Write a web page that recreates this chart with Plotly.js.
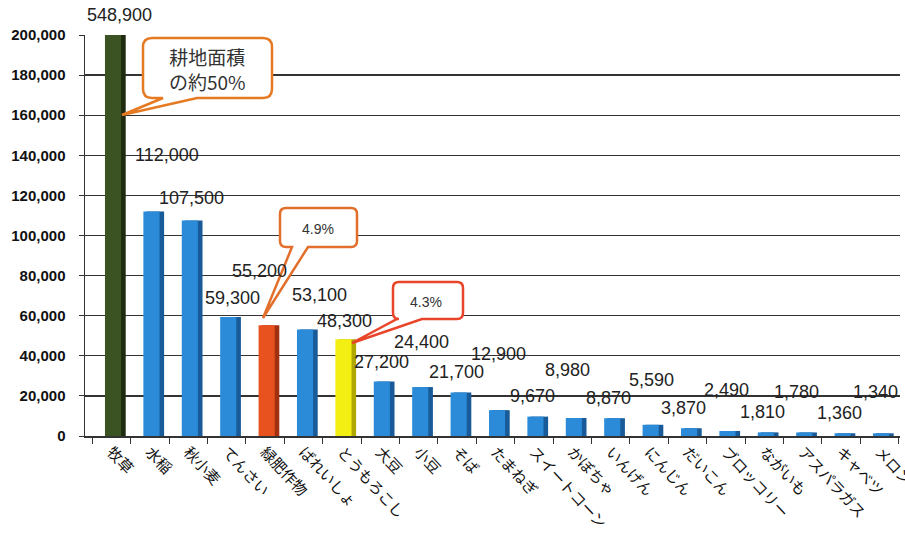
<!DOCTYPE html>
<html><head><meta charset="utf-8">
<script src="https://cdn.plot.ly/plotly-3.0.1.min.js"></script>
<style>html,body{margin:0;padding:0;background:#fff}#chart{width:905px;height:539px}</style>
</head><body><div id="chart"></div>
<script>
// ---- data ----
const crops = ['牧草','水稲','秋小麦','てんさい','緑肥作物','ばれいしょ','とうもろこし','大豆','小豆','そば','たまねぎ','スイートコーン','かぼちゃ','いんげん','にんじん','だいこん','ブロッコリー','ながいも','アスパラガス','キャベツ','メロン'];
const area = [548900,112000,107500,59300,55200,53100,48300,27200,24400,21700,12900,9670,8980,8870,5590,3870,2490,1810,1780,1360,1340];
const yTicks = [0,20000,40000,60000,80000,100000,120000,140000,160000,180000,200000];
const callout1 = ['耕地面積','の約50%'];
const callout2 = '4.9%';
const callout3 = '4.3%';

// ---- styling / layout helpers ----
const YMAX = 200000;
const faceColors = crops.map((c,i)=> i===0 ? '#3B5222' : (c==='緑肥作物' ? '#E8521E' : (c==='とうもろこし' ? '#F4EF12' : '#2C8BD8')));
const sideColors = crops.map((c,i)=> i===0 ? '#1E2B10' : (c==='緑肥作物' ? '#A3300E' : (c==='とうもろこし' ? '#AFA800' : '#185B98')));
const labelDX = [8,17,3,6,-6,16,3,1,3,-1,3,-1,-5,-2,2,-4,1,-2,-6,-2,-4];
const labelDY = [20,56,22,19,54,35,18,19,45,20,56,21,48,20,45,20,41,20,40,20,41];

const L=85, T=35, W=815, H=401;
const px = x => (x-L)/W;
const py = y => (T+H-y)/H;
function P(x,y){return px(x).toFixed(5)+','+py(y).toFixed(5);}
function callout(x0,y0,x1,y1,r,b2,tip,b1){
  return 'M'+P(x0+r,y0)+' L'+P(x1-r,y0)+' Q'+P(x1,y0)+' '+P(x1,y0+r)+
    ' L'+P(x1,y1-r)+' Q'+P(x1,y1)+' '+P(x1-r,y1)+
    ' L'+P(b2,y1)+' L'+P(tip[0],tip[1])+' L'+P(b1,y1)+
    ' L'+P(x0+r,y1)+' Q'+P(x0,y1)+' '+P(x0,y1-r)+
    ' L'+P(x0,y0+r)+' Q'+P(x0,y0)+' '+P(x0+r,y0)+' Z';
}

const side = {type:'bar', x:crops, y:area, width:0.46, offset:-0.09,
  marker:{color:sideColors}, hoverinfo:'skip', showlegend:false};
const face = {type:'bar', x:crops, y:area, width:0.42, offset:-0.17,
  marker:{color:faceColors, line:{width:0}}, showlegend:false};

const valueAnn = crops.map((c,i)=>({
  x:c, y:Math.min(area[i],YMAX), xref:'x', yref:'y', showarrow:false,
  text:area[i].toLocaleString('en-US'), xshift:labelDX[i], yshift:labelDY[i],
  yanchor:'middle', xanchor:'center',
  font:{family:'Liberation Sans, Arial, sans-serif', size:18, color:'#222'}
}));

const boxAnn = [
  {xref:'paper',yref:'paper',x:px(207),y:py(69),text:callout1.join('<br>'),showarrow:false,
   xanchor:'center',yanchor:'middle',align:'center',
   font:{family:'Noto Sans CJK JP',size:19,color:'#333'}},
  {xref:'paper',yref:'paper',x:px(318),y:py(229),text:callout2,showarrow:false,xanchor:'center',yanchor:'middle',
   font:{family:'Liberation Sans',size:14,color:'#333'}},
  {xref:'paper',yref:'paper',x:px(426),y:py(302),text:callout3,showarrow:false,xanchor:'center',yanchor:'middle',
   font:{family:'Liberation Sans',size:14,color:'#333'}}
];

const shapes = [
  {type:'path',xref:'paper',yref:'paper',layer:'above',
   path:callout(143,38,272,98,9,197,[122,115],163),
   fillcolor:'#fff',line:{color:'#E57A22',width:2.5}},
  {type:'path',xref:'paper',yref:'paper',layer:'above',
   path:callout(280,208,357,247,6,308,[263,318],292),
   fillcolor:'#fff',line:{color:'#E2702C',width:2.5}},
  {type:'path',xref:'paper',yref:'paper',layer:'above',
   path:callout(393,282,463,319,6,422,[352,343],397),
   fillcolor:'#fff',line:{color:'#E8452A',width:2.5}}
];

const layout = {
  width:905, height:539,
  margin:{l:L, r:905-L-W, t:T, b:539-T-H},
  paper_bgcolor:'#fff', plot_bgcolor:'#fff',
  barmode:'overlay', bargap:0.5,
  xaxis:{type:'category', tickangle:47, ticks:'outside', ticklen:6, tickcolor:'#333',
    tickson:'boundaries', showline:true, linecolor:'#333', linewidth:1.5, ticklabelstandoff:0,
    tickfont:{family:'Noto Sans CJK JP', size:15, color:'#111'}, showgrid:false},
  yaxis:{range:[0,YMAX], tickvals:yTicks, tickformat:',', ticks:'outside', ticklen:5,
    tickcolor:'#333', showline:true, linecolor:'#333', linewidth:1.5, ticklabelstandoff:10,
    gridcolor:'#333', gridwidth:1.3, zeroline:false,
    tickfont:{family:'Liberation Sans, Arial, sans-serif', size:15, color:'#111', weight:'bold'}},
  annotations: valueAnn.concat(boxAnn),
  shapes: shapes
};
Plotly.newPlot('chart',[side,face],layout,{displayModeBar:false,staticPlot:true});
</script></body></html>
